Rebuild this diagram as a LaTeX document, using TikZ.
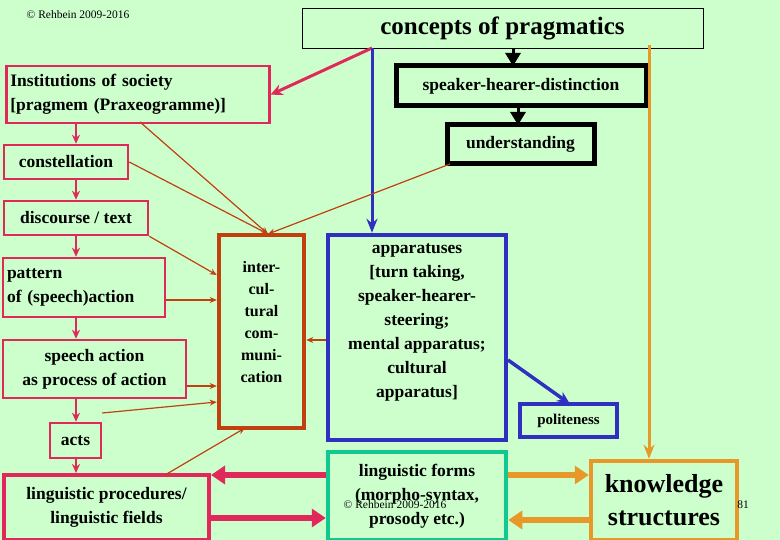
\documentclass[tikz,border=0pt]{standalone}
\usepackage{fontspec}
\setmainfont{Liberation Serif}
\usetikzlibrary{arrows.meta}
\definecolor{bg}{HTML}{CCFFCC}
\definecolor{crim}{HTML}{E0285A}
\definecolor{brn}{HTML}{C04010}
\definecolor{blu}{HTML}{3030C0}
\definecolor{teal}{HTML}{10C890}
\definecolor{orn}{HTML}{E89828}
\begin{document}
\begin{tikzpicture}[x=1pt,y=-1pt,
 bx/.style={draw,inner sep=0pt,font=\bfseries\fontsize{17.5}{24}\selectfont,align=center},
 cb/.style={bx,draw=crim,line width=2.5pt},
 thin/.style={draw=brn,line width=1.2pt,-{Stealth[length=7pt,width=6pt]}},
 sm/.style={draw=crim,line width=2pt,-{Stealth[length=9pt,width=8pt]}}]
\fill[bg] (0,0) rectangle (780,540);
\useasboundingbox (0,0) rectangle (780,540);
\node[font=\fontsize{11.5}{12}\selectfont] (c1) at (78,15) {© Rehbein 2009-2016};
\node[bx,draw=black,line width=0.8pt,minimum width=401,minimum height=40,font=\bfseries\fontsize{25}{26}\selectfont] (cp) at (502.5,28) {concepts of pragmatics};
\node[cb,minimum width=263,minimum height=57,align=left,anchor=north west,text width=255] (inst) at (5,65) {Institutions of society\\{}[pragmem (Praxeogramme)]};
\node[bx,line width=5pt,minimum width=250,minimum height=40] (sh) at (521,86) {speaker-hearer-distinction};
\node[bx,line width=5pt,minimum width=147,minimum height=39] (un) at (520.5,144.5) {understanding};
\node[cb,minimum width=124,minimum height=34] (con) at (66,162) {constellation};
\node[cb,minimum width=144,minimum height=34] (dis) at (76,218) {discourse / text};
\node[cb,minimum width=162,minimum height=59,align=left,text width=154] (pat) at (84,287.5) {pattern\\of (speech)action};
\node[cb,minimum width=183,minimum height=58] (sa) at (94.5,369) {speech action\\as process of action};
\node[cb,minimum width=51,minimum height=35] (acts) at (75.5,440.5) {acts};
\node[cb,line width=4pt,minimum width=205,minimum height=65] (lp) at (106.5,507.5) {linguistic procedures/\\linguistic fields};
\node[draw=brn,line width=4.5pt,minimum width=85,minimum height=193] (ic) at (261.5,331.5) {};
\node[font=\bfseries\fontsize{16}{22}\selectfont,align=center,anchor=north] (ict) at (261.5,258) {inter-\\cul-\\tural\\com-\\muni-\\cation};
\node[draw=blu,line width=4.5pt,minimum width=178,minimum height=205] (ap) at (417,337.5) {};
\node[font=\bfseries\fontsize{17.5}{24}\selectfont,align=center,anchor=north] (apt) at (417,240) {apparatuses\\{}[turn taking,\\speaker-hearer-\\steering;\\mental apparatus;\\cultural\\apparatus]};
\node[bx,draw=blu,line width=4pt,minimum width=97,minimum height=33,font=\bfseries\fontsize{15}{16}\selectfont] (po) at (568.5,420.5) {politeness};
\node[bx,draw=teal,line width=4.5pt,minimum width=178,minimum height=88] (lf) at (417,496) {linguistic forms\\(morpho-syntax,\\prosody etc.)};
\node[bx,draw=orn,line width=4.5pt,minimum width=146,minimum height=79,font=\bfseries\fontsize{26}{33}\selectfont] (kn) at (664,500.5) {knowledge\\structures};
\node[font=\fontsize{11.5}{12}\selectfont] (c2) at (395,505) {© Rehbein 2009-2016};
\node[font=\fontsize{11.5}{12}\selectfont] (n81) at (743,505) {81};
% top arrows
\coordinate (cpa) at (372,48);
\coordinate (cpo) at (649,45);
\draw[crim,line width=3pt,-{Stealth[length=12pt,width=11pt]}] (cpa) -- (inst.east);
\draw[line width=3pt,-{Triangle[length=13pt,width=15pt]}] (513,48) -- (513,66);
\draw[line width=3pt,-{Triangle[length=13pt,width=15pt]}] (518,106) -- (518,125);
\draw[blu,line width=3pt,-{Stealth[length=14pt,width=11pt]}] (cpa) -- (ap.north -| cpa);
\draw[orn,line width=3pt,-{Stealth[length=14pt,width=11pt]}] (cpo) -- (kn.north -| cpo);
% left chain
\draw[sm] (inst.south -| 76,0) -- (con.north -| 76,0);
\draw[sm] (con.south -| 76,0) -- (dis.north -| 76,0);
\draw[sm] (dis.south -| 76,0) -- (pat.north -| 76,0);
\draw[sm] (pat.south -| 76,0) -- (sa.north -| 76,0);
\draw[sm] (sa.south -| 76,0) -- (acts.north -| 76,0);
\draw[sm] (acts.south -| 76,0) -- (lp.north -| 76,0);
% thin brown
\coordinate (ictop) at (268,234);
\draw[thin] (140,122) -- (ictop);
\draw[thin] (con.east) -- (ictop);
\draw[thin] (450,164) -- (ictop);
\draw[thin] (dis.south east) -- (ic.west |- 0,275);
\draw[thin] (pat.east |- 0,300) -- (ic.west |- 0,300);
\draw[thin] (sa.east |- 0,386) -- (ic.west |- 0,386);
\draw[thin] (acts.east |- 0,413) -- (ic.west |- 0,402);
\draw[thin] (165,475) -- (245,428);
\draw[thin] (ap.west |- 0,340) -- (ic.east |- 0,340);
\draw[blu,line width=3.5pt,-{Stealth[length=13pt,width=11pt]}] (508,360) -- (570,404);
% bottom double arrows
\draw[crim,line width=6pt,-{Triangle[length=14pt,width=18pt]}] (lf.west |- 0,475) -- (lp.east |- 0,475);
\draw[crim,line width=6pt,-{Triangle[length=14pt,width=18pt]}] (lp.east |- 0,518) -- (lf.west |- 0,518);
\draw[orn,line width=6pt,-{Triangle[length=14pt,width=18pt]}] (lf.east |- 0,475) -- (kn.west |- 0,475);
\draw[orn,line width=6pt,-{Triangle[length=14pt,width=18pt]}] (kn.west |- 0,520) -- (lf.east |- 0,520);
\end{tikzpicture}
\end{document}
